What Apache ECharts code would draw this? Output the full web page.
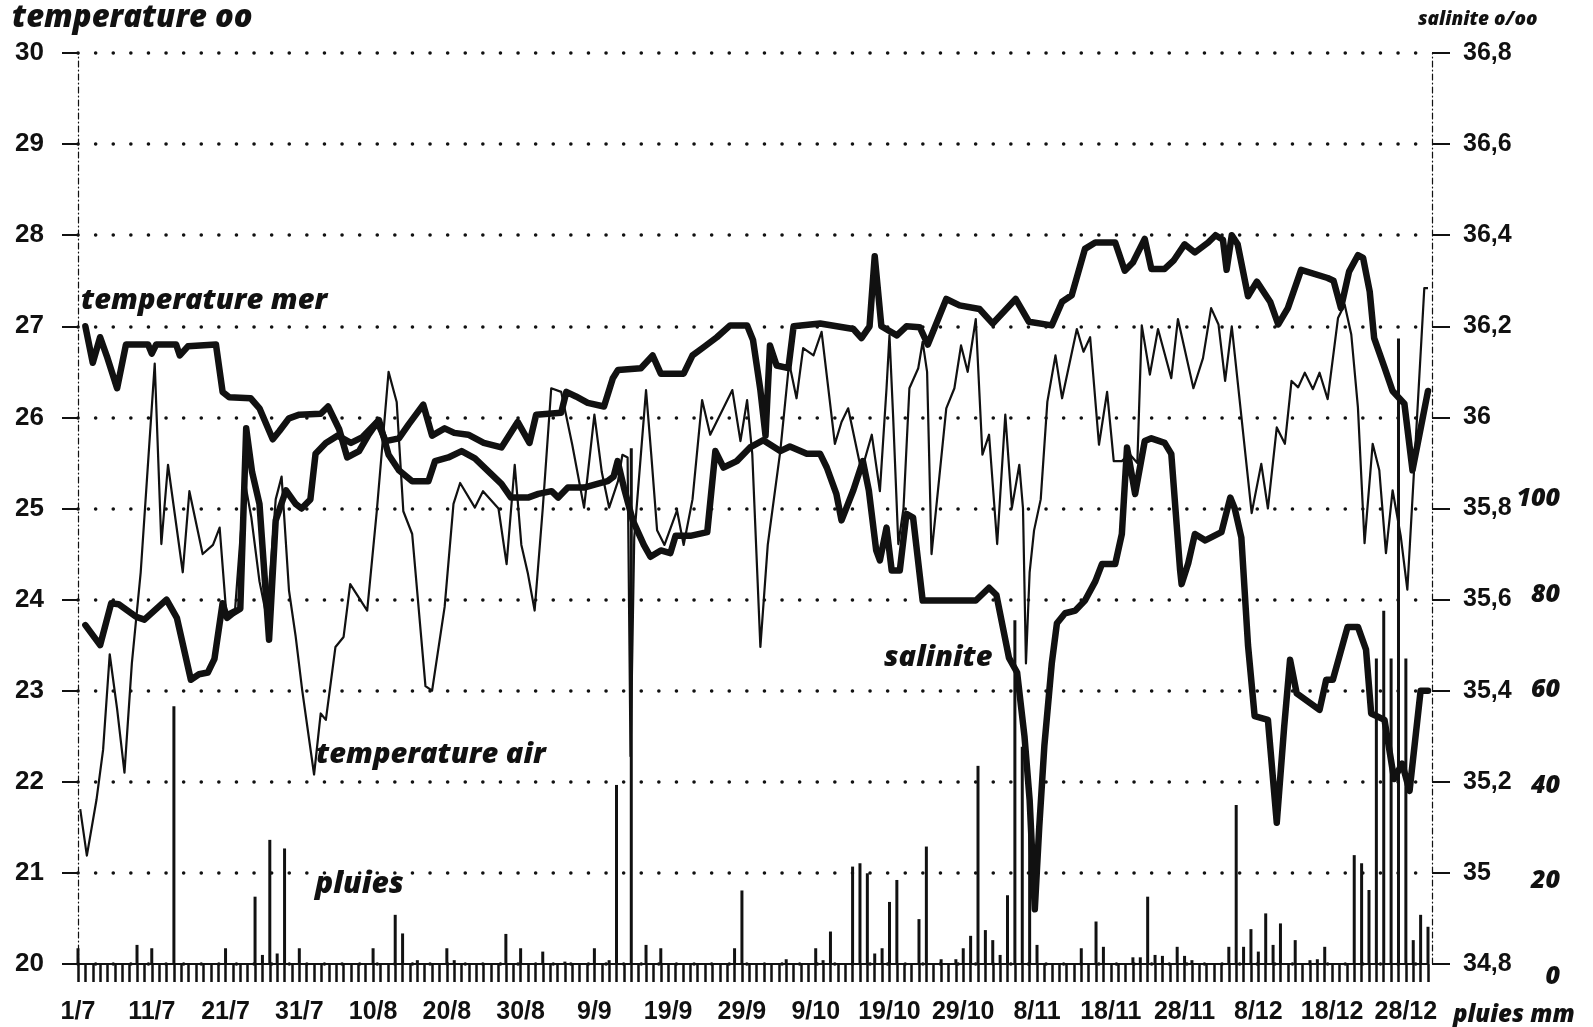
<!DOCTYPE html>
<html><head><meta charset="utf-8">
<script src="https://cdn.jsdelivr.net/npm/echarts/dist/echarts.min.js"></script>
<style>html,body{margin:0;padding:0;background:#fff}#c{width:1593px;height:1027px}</style>
</head><body><div id="c"></div>
<script>
// x = day index from 1/7 (0) to 31/12 (183)
const dayLabels = ['1/7','11/7','21/7','31/7','10/8','20/8','30/8','9/9','19/9','29/9','9/10','19/10','29/10','8/11','18/11','28/11','8/12','18/12','28/12'];

// temperature mer (°C) : [day index, value]
const seaTemp = [[1,27.0],[2,26.6],[3,26.88],[4,26.65],[5.3,26.32],[6.5,26.8],[9.5,26.8],[10,26.7],[10.6,26.8],[13.3,26.8],[13.8,26.68],[14.9,26.78],[18.7,26.8],[19.6,26.28],[20.5,26.22],[23.4,26.21],[24.6,26.1],[26.4,25.76],[27.3,25.85],[28.6,25.99],[30,26.03],[32.9,26.04],[33.9,26.12],[35.4,25.87],[36.5,25.56],[38.1,25.63],[39.4,25.81],[40.6,25.95],[41.7,25.74],[43.5,25.77],[44.8,25.92],[46.8,26.14],[48,25.8],[49.7,25.88],[51,25.83],[52.9,25.81],[55,25.72],[57.4,25.67],[59.6,25.95],[61.2,25.72],[62.1,26.03],[65.5,26.05],[66.2,26.28],[67.5,26.23],[69.1,26.16],[71.3,26.12],[72.5,26.43],[73.2,26.52],[76.3,26.54],[77.9,26.68],[79,26.48],[82.1,26.48],[83.3,26.68],[84.8,26.77],[86.6,26.88],[88.4,27.01],[90.7,27.01],[91.5,26.85],[92.5,26.3],[93.2,25.8],[93.8,26.79],[94.7,26.57],[96.3,26.54],[97,27.0],[100.6,27.03],[105.1,26.97],[106.2,26.87],[107.3,27.0],[108,27.77],[108.9,27.0],[111,26.9],[112.3,27.0],[114.1,26.99],[115.2,26.8],[117.7,27.3],[119.5,27.23],[122.2,27.19],[124,27.03],[127.1,27.3],[128.9,27.05],[132,27.01],[133.4,27.27],[134.7,27.34],[136.5,27.85],[137.9,27.92],[140.6,27.92],[141.9,27.61],[143,27.7],[144.6,27.96],[145.5,27.63],[147.3,27.63],[148.5,27.72],[150,27.9],[151.4,27.81],[153.2,27.92],[154.2,28.0],[155.2,27.95],[155.7,27.62],[156.4,28.0],[157.2,27.9],[158.6,27.33],[159.8,27.49],[161.6,27.27],[162.7,27.02],[164,27.2],[165.8,27.62],[169.4,27.53],[170.2,27.5],[171.2,27.2],[172.3,27.6],[173.5,27.78],[174.2,27.75],[175.1,27.38],[175.7,26.87],[177.1,26.55],[178.2,26.29],[179.8,26.15],[180.9,25.42],[183,26.29]];

// salinite (o/oo) : [day index, value]
const salinity = [[1,35.544],[3,35.50],[4.5,35.592],[5.5,35.59],[7.9,35.562],[9,35.556],[12,35.60],[13.4,35.56],[15.3,35.424],[16.4,35.436],[17.6,35.44],[18.5,35.47],[19.6,35.592],[20.2,35.56],[21,35.57],[22,35.58],[22.8,35.976],[23.6,35.88],[24.6,35.81],[25.9,35.512],[26.8,35.774],[28.2,35.84],[29.5,35.81],[30.3,35.80],[31.5,35.82],[32.2,35.92],[33.6,35.944],[35.2,35.96],[37,35.944],[38.5,35.956],[40.8,35.994],[42.1,35.918],[43.5,35.884],[45.3,35.86],[47.5,35.86],[48.4,35.904],[50.2,35.912],[52,35.926],[53.8,35.91],[57.4,35.854],[58.7,35.824],[61,35.824],[62.4,35.832],[64.2,35.838],[65.1,35.824],[66.4,35.846],[68.6,35.846],[70.4,35.854],[71.8,35.86],[72.6,35.87],[73.15,35.904],[74,35.846],[75.2,35.774],[76.7,35.72],[77.6,35.694],[79,35.708],[80.3,35.702],[81,35.74],[83,35.74],[85.3,35.748],[86.4,35.926],[87.5,35.89],[89.3,35.904],[91.1,35.934],[92.9,35.95],[95.2,35.926],[96.5,35.936],[98.8,35.92],[100.6,35.92],[101.5,35.89],[102.8,35.832],[103.5,35.774],[105.1,35.84],[106.4,35.904],[107.2,35.84],[108.2,35.708],[108.7,35.686],[109.6,35.758],[110.3,35.664],[111.4,35.664],[112.3,35.788],[113.2,35.78],[114.5,35.598],[121.7,35.598],[123.5,35.626],[124.5,35.61],[126.2,35.472],[127.3,35.44],[128.3,35.30],[129,35.16],[129.7,34.92],[130.3,35.10],[131,35.28],[132,35.46],[132.7,35.548],[133.8,35.57],[135.2,35.576],[136.5,35.598],[137.9,35.64],[138.8,35.678],[140.6,35.678],[141.5,35.744],[142.2,35.934],[143.3,35.832],[144.6,35.948],[145.5,35.954],[147.3,35.944],[148.2,35.92],[149.4,35.664],[149.6,35.634],[150.5,35.68],[151.4,35.744],[152.8,35.73],[155,35.748],[156.2,35.824],[156.8,35.80],[157.7,35.736],[158.6,35.50],[159.5,35.344],[161.3,35.336],[162.5,35.11],[163.5,35.32],[164.3,35.468],[165.2,35.394],[168.3,35.358],[169.2,35.424],[170.1,35.424],[172.1,35.54],[173.5,35.54],[174.6,35.49],[175.3,35.35],[177.1,35.336],[178.4,35.206],[179.5,35.24],[180.5,35.18],[182,35.40],[183,35.40]];

// temperature air (°C) : [day index, value]
const airTemp = [[0.3,21.7],[1.2,21.19],[2.5,21.8],[3.4,22.35],[4.3,23.4],[5.3,22.8],[6.3,22.1],[7.3,23.3],[8.5,24.3],[10.4,26.59],[11.3,24.61],[12.2,25.48],[14.2,24.3],[15.1,25.19],[16.9,24.5],[18.3,24.6],[19.2,24.79],[20.1,23.85],[21.3,23.9],[22.6,25.3],[23.5,24.9],[24.6,24.2],[25.6,23.8],[26.8,25.1],[27.6,25.35],[28.6,24.1],[29.5,23.6],[30.4,23.0],[32,22.08],[32.9,22.75],[33.6,22.68],[34.9,23.48],[36,23.59],[36.9,24.17],[39.2,23.88],[40.5,24.97],[42.1,26.5],[43.2,26.17],[44.1,24.97],[45.3,24.72],[47.1,23.05],[48,23.0],[49.7,23.92],[50.9,25.05],[51.8,25.28],[53.8,25.01],[54.9,25.19],[57,25.0],[58.1,24.39],[59.2,25.48],[60.1,24.6],[61,24.28],[61.9,23.88],[63,25.0],[64.15,26.32],[65.5,26.28],[67,25.7],[68.6,25.01],[70,26.03],[71,25.4],[72,25.01],[73.2,25.3],[73.8,25.59],[74.5,25.56],[74.9,22.28],[75.4,24.68],[77,26.3],[77.7,25.6],[78.5,24.76],[79.5,24.6],[81.2,24.98],[82.1,24.6],[83.3,25.1],[84.6,26.19],[85.7,25.81],[88.7,26.3],[89.8,25.74],[90.7,26.19],[91.4,25.6],[92.5,23.48],[93.5,24.6],[95.2,25.63],[96.4,26.6],[97.4,26.21],[98.3,26.76],[99.7,26.68],[100.8,26.94],[102.6,25.71],[103.5,25.95],[104.4,26.1],[106.2,25.41],[107.6,25.81],[108.7,25.19],[109.6,26.32],[110,26.9],[110.5,26.0],[111.2,24.61],[111.9,25.0],[112.7,26.32],[113.9,26.54],[114.5,26.83],[115.1,26.5],[115.7,24.5],[117.7,26.1],[118.8,26.32],[119.7,26.79],[120.6,26.5],[121.7,27.08],[122.6,25.59],[123.5,25.81],[124.6,24.61],[125.7,26.03],[126.6,25.01],[127.6,25.48],[128.1,25.0],[128.5,23.3],[129,24.3],[129.6,24.76],[130.5,25.1],[131.4,26.17],[132.5,26.68],[133.4,26.21],[135.4,26.97],[136.3,26.72],[137.2,26.88],[138.4,25.7],[139.5,26.28],[140.4,25.52],[141.5,25.52],[142.5,25.6],[143.6,25.5],[144.2,27.01],[145.3,26.47],[146.4,26.97],[148.2,26.43],[149.1,27.08],[151.2,26.32],[152.5,26.65],[153.6,27.2],[154.6,27.02],[155.5,26.4],[156.4,27.0],[159.1,24.95],[160.4,25.49],[161.3,25.0],[162.5,25.89],[163.6,25.71],[164.5,26.4],[165.4,26.33],[166.3,26.49],[167.4,26.31],[168.3,26.49],[169.4,26.2],[170.8,27.09],[171.7,27.24],[172.6,26.91],[173.5,26.11],[174.4,24.62],[175.5,25.71],[176.4,25.42],[177.3,24.51],[178.2,25.2],[179.3,24.7],[180.2,24.11],[182.5,27.42],[183,27.42]];

// pluies (mm) : [day index, value]
const rain = [[0,3.3],[8,4],[10,3.3],[13,54],[20,3.3],[24,14.1],[25,1.9],[26,26],[27,2.2],[28,24.2],[30,3.3],[40,3.3],[43,10.3],[44,6.4],[46,0.8],[50,3.3],[51,0.8],[58,6.3],[60,3.3],[63,2.6],[66,0.5],[70,3.3],[72,0.8],[73,37.5],[75,108],[77,4],[79,3.3],[89,3.3],[90,15.4],[96,1],[100,3.3],[101,0.8],[102,6.8],[105,20.4],[106,21.1],[107,19],[108,2.2],[109,3.3],[110,13],[111,17.6],[114,9.4],[115,24.6],[117,1],[119,1],[120,3.3],[121,5.9],[122,41.5],[123,7.1],[124,5],[125,1.9],[126,14.4],[127,72],[128,45.5],[129,29],[130,4],[136,3.3],[138,8.9],[139,3.6],[143,1.4],[144,1.4],[145,14.1],[146,1.9],[147,1.7],[149,3.6],[150,1.7],[151,0.8],[156,3.6],[157,33.3],[158,3.6],[159,7.3],[160,2.6],[161,10.6],[162,4],[163,8.5],[165,5],[167,0.8],[168,1],[169,3.6],[173,22.8],[174,21.1],[175,15.5],[176,64],[177,74],[178,64],[179,131],[180,64],[181,5],[182,10.3],[183,7.8]];

const INK = '#111';
const HEAVY = '"Open Sans", "Liberation Sans", sans-serif';
const chart = echarts.init(document.getElementById('c'), null, {renderer: 'canvas'});
chart.setOption({
  backgroundColor: '#fff',
  animation: false,
  grid: {left: 78, right: 165, top: 53, bottom: 63, containLabel: false, outerBoundsMode: 'none'},
  xAxis: {
    type: 'value', min: 0, max: 183, interval: 1,
    axisLine: {show: true, onZero: false, lineStyle: {color: INK, width: 2}},
    axisTick: {show: true, length: 18, lineStyle: {color: INK, width: 2.5}},
    axisLabel: {
      show: true, margin: 36, color: INK, fontFamily: 'Liberation Sans', fontWeight: 'bold', fontSize: 25,
      hideOverlap: false, showMinLabel: true, showMaxLabel: true,
      formatter: v => (v % 10 === 0 && dayLabels[v / 10]) ? dayLabels[v / 10] : ''
    },
    splitLine: {show: false}
  },
  yAxis: [
    {
      type: 'value', min: 20, max: 30, interval: 1, position: 'left',
      axisLine: {show: true, lineStyle: {color: INK, width: 1.2, type: [6, 3, 1, 3]}},
      axisTick: {show: true, length: 16, lineStyle: {color: INK, width: 2}},
      axisLabel: {margin: 34, color: INK, fontFamily: 'Liberation Sans', fontWeight: 'bold', fontSize: 26},
      splitLine: {show: true, lineStyle: {color: INK, width: 3.5, type: [0.1, 17.5], cap: 'round'}}
    },
    {
      type: 'value', min: 34.8, max: 36.8, interval: 0.2, position: 'right', offset: 4,
      axisLine: {show: true, lineStyle: {color: INK, width: 1.2, type: [6, 3, 1, 3]}},
      axisTick: {show: true, length: 18, lineStyle: {color: INK, width: 2}},
      axisLabel: {margin: 31, color: INK, fontFamily: 'Liberation Sans', fontWeight: 'bold', fontSize: 25,
        formatter: v => String(Math.round(v * 10) / 10).replace('.', ',')},
      splitLine: {show: false}
    },
    {
      type: 'value', min: 0, max: 190.8, interval: 20, position: 'right', offset: 4,
      axisLine: {show: false}, axisTick: {show: false}, splitLine: {show: false},
      axisLabel: {margin: 128, align: 'right', verticalAlign: 'top', color: INK, fontFamily: HEAVY,
        fontWeight: 800, fontStyle: 'italic', fontSize: 25, showMaxLabel: false,
        formatter: v => (v <= 100 ? String(Math.round(v)) : '')}
    }
  ],
  series: [
    {type: 'bar', name: 'pluies', xAxisIndex: 0, yAxisIndex: 2, data: rain, barWidth: 3,
     itemStyle: {color: INK}, z: 2},
    {type: 'line', name: 'temperature air', yAxisIndex: 0, data: airTemp, symbol: 'none',
     lineStyle: {color: INK, width: 2.2, join: 'round'}, z: 3},
    {type: 'line', name: 'salinite', yAxisIndex: 1, data: salinity, symbol: 'none',
     lineStyle: {color: INK, width: 6.5, join: 'round', cap: 'round'}, z: 4},
    {type: 'line', name: 'temperature mer', yAxisIndex: 0, data: seaTemp, symbol: 'none',
     lineStyle: {color: INK, width: 6.5, join: 'round', cap: 'round'}, z: 4}
  ],
  graphic: [
    {type: 'text', x: 12, y: 18, style: {text: 'temperature oo', fill: INK, font: 'italic 800 31px ' + HEAVY, verticalAlign: 'middle', textVerticalAlign: 'middle'}},
    {type: 'text', x: 1418, y: 20, style: {text: 'salinite o/oo', fill: INK, font: 'italic 800 19px ' + HEAVY, verticalAlign: 'middle', textVerticalAlign: 'middle'}},
    {type: 'text', x: 81, y: 301, style: {text: 'temperature mer', fill: INK, font: 'italic 800 29px ' + HEAVY, verticalAlign: 'middle', textVerticalAlign: 'middle'}},
    {type: 'text', x: 884, y: 658, style: {text: 'salinite', fill: INK, font: 'italic 800 29px ' + HEAVY, verticalAlign: 'middle', textVerticalAlign: 'middle'}},
    {type: 'text', x: 316, y: 755, style: {text: 'temperature air', fill: INK, font: 'italic 800 29px ' + HEAVY, verticalAlign: 'middle', textVerticalAlign: 'middle'}},
    {type: 'text', x: 315, y: 884, style: {text: 'pluies', fill: INK, font: 'italic 800 30px ' + HEAVY, verticalAlign: 'middle', textVerticalAlign: 'middle'}},
    {type: 'text', x: 1453, y: 1015, style: {text: 'pluies mm', fill: INK, font: 'italic 800 24px ' + HEAVY, verticalAlign: 'middle', textVerticalAlign: 'middle'}}
  ]
});
</script>
</body></html>
